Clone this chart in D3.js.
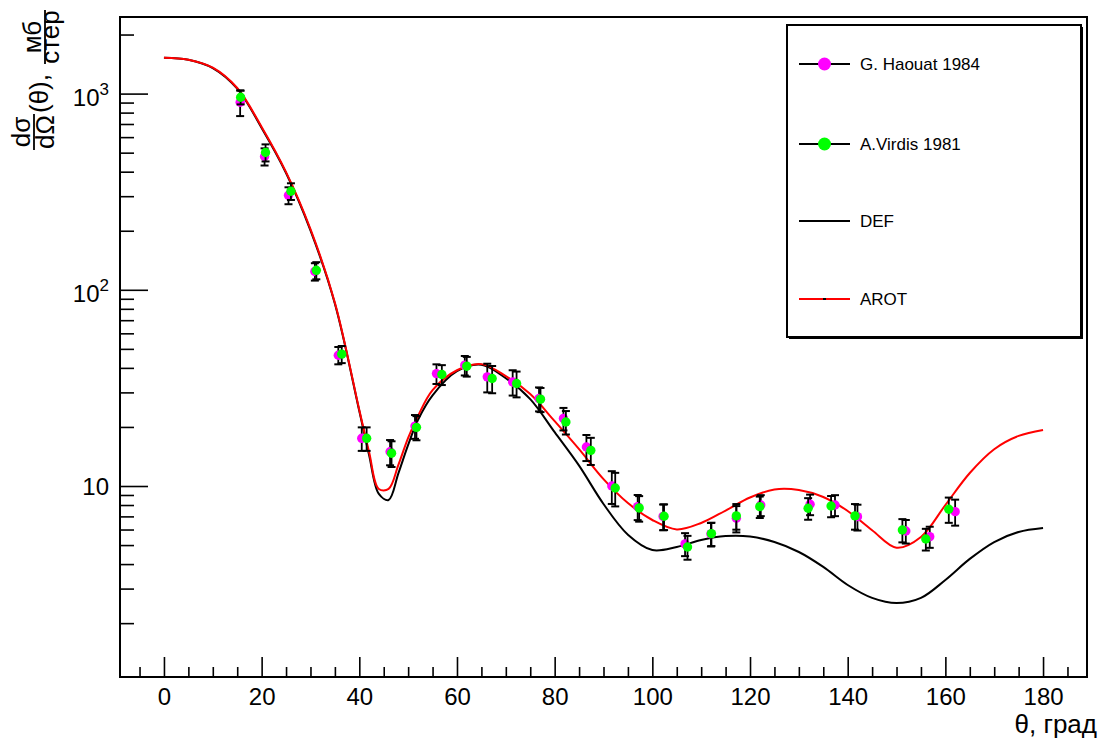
<!DOCTYPE html>
<html>
<head>
<meta charset="utf-8">
<script src="https://cdn.jsdelivr.net/npm/d3@7"></script>
<style>
  body { margin: 0; background: #fff; }
  text { font-family: "Liberation Sans", Arial, Helvetica, sans-serif; fill: #000; }
</style>
</head>
<body>
<svg id="chart" width="1107" height="742"></svg>
<script>
// Angular grid of the model curves (degrees)
const curveAngles = [0, 5, 10, 15, 20, 25, 30, 35, 40, 42, 44, 46, 48, 50, 52, 55, 60, 65, 70, 75,
  80, 85, 90, 95, 100, 105, 110, 115, 120, 125, 130, 135, 140, 145, 150, 155, 160, 165, 170, 175, 180];
// DEF model, mb/sr
const defValues = [1525, 1489, 1350, 1060, 668, 394, 201, 85, 24.1, 14.4, 9.11, 8.49, 11.6, 16.2, 21.7, 29.0,
  38.5, 41.5, 35.4, 27.7, 18.8, 12.7, 8.1, 5.65, 4.72, 4.89, 5.31, 5.56, 5.53, 5.18, 4.61, 3.87, 3.13,
  2.69, 2.53, 2.69, 3.32, 4.25, 5.18, 5.83, 6.11];
// AROT model, mb/sr
const arotValues = [1525, 1489, 1356, 1068, 676, 398, 204, 86, 24.4, 14.9, 9.66, 9.66, 12.8, 17.6, 22.7, 30.8,
  38.9, 41.8, 36.3, 29.4, 21.4, 15.4, 10.85, 8.19, 6.71, 6.01, 6.48, 7.5, 8.74, 9.60, 9.54, 8.79, 7.46,
  5.95, 4.85, 5.50, 8.00, 11.65, 15.4, 18.0, 19.3];

// G. Haouat 1984
const haouatAngles = [15.6, 20.6, 25.5, 30.9, 35.7, 40.5, 46.3, 51.4, 55.8, 61.6, 66.2, 71.4, 76.8, 81.8,
  86.5, 91.7, 97.0, 102.2, 106.7, 112.0, 117.2, 122.2, 132.3, 137.4, 142.0, 151.9, 156.8, 162.0];
const haouatValues = [903, 478, 303, 124, 46.4, 17.5, 14.95, 20.2, 37.4, 41.3, 36.0, 33.9, 27.9, 22.1,
  15.8, 10.0, 7.85, 7.0, 5.07, 5.7, 6.85, 8.0, 8.07, 8.0, 6.98, 5.9, 5.52, 7.4];
const haouatErrors = [135, 48, 30, 12.6, 4.7, 2.4, 2.2, 2.8, 4.3, 4.7, 6.0, 5.0, 3.9, 2.9,
  2.4, 1.9, 1.15, 1.05, 0.68, 0.78, 1.05, 0.98, 0.97, 0.98, 1.05, 0.81, 0.68, 1.12];

// A.Virdis 1981
const virdisAngles = [15.7, 20.8, 26.0, 31.2, 36.4, 41.5, 46.6, 51.7, 56.9, 62.0, 67.2, 72.2, 77.1, 82.3,
  87.4, 92.4, 97.3, 102.4, 107.2, 112.1, 117.2, 122.0, 131.9, 136.6, 141.5, 151.2, 156.0, 160.7];
const virdisValues = [958, 501, 318, 125.7, 47.0, 17.5, 14.7, 19.9, 37.0, 40.8, 35.3, 33.3, 27.7, 21.2,
  15.2, 9.77, 7.73, 7.01, 4.89, 5.72, 7.04, 7.85, 7.70, 7.91, 7.04, 5.97, 5.37, 7.61];
const virdisErrors = [77, 50, 31, 12.6, 4.7, 2.4, 2.2, 2.8, 4.3, 4.7, 5.6, 5.0, 3.9, 2.9,
  2.4, 1.9, 1.15, 1.05, 0.68, 0.78, 1.05, 0.98, 0.97, 0.98, 1.05, 0.81, 0.68, 1.12];

// Axis ticks
const xMajorTicks = [0, 20, 40, 60, 80, 100, 120, 140, 160, 180];
const xMinorTicks = [-5, 5, 10, 15, 25, 30, 35, 45, 50, 55, 65, 70, 75, 85, 90, 95, 105, 110, 115,
  125, 130, 135, 145, 150, 155, 165, 170, 175, 185];
const yMajorTicks = [10, 100, 1000];
const yTickBase = ["10", "10", "10"];
const yTickExp = ["", "2", "3"];
const yMinorTicks = [2, 3, 4, 5, 6, 7, 8, 9, 20, 30, 40, 50, 60, 70, 80, 90,
  200, 300, 400, 500, 600, 700, 800, 900, 2000];

const legendLabels = ["G. Haouat 1984", "A.Virdis 1981", "DEF", "AROT"];
const legendColors = ["#ff00ff", "#00ff00", "#000000", "#ff0000"];

const svg = d3.select("#chart");
svg.append("rect").attr("width", 1107).attr("height", 742).attr("fill", "#fff");

const frame = { left: 120, right: 1087, top: 17, bottom: 677 };
const x = d3.scaleLinear().domain([-9, 189]).range([frame.left, frame.right]);
const y = d3.scaleLog().domain([1.063, 2457]).range([frame.bottom, frame.top]);

// Model curves
const line = d3.line().x(d => x(d[0])).y(d => y(d[1])).curve(d3.curveCatmullRom.alpha(0.5));
const defPts = curveAngles.map((a, i) => [a, defValues[i]]);
const arotPts = curveAngles.map((a, i) => [a, arotValues[i]]);
svg.append("path").attr("d", line(defPts)).attr("fill", "none").attr("stroke", "#000").attr("stroke-width", 2);
svg.append("path").attr("d", line(arotPts)).attr("fill", "none").attr("stroke", "#ff0000").attr("stroke-width", 2);

// Measured points with error bars
function drawSeries(angles, values, errors, color) {
  const g = svg.append("g");
  angles.forEach((a, i) => {
    const cx = x(a);
    const yHi = y(values[i] + errors[i]);
    const yLo = y(values[i] - errors[i]);
    g.append("line").attr("x1", cx).attr("x2", cx).attr("y1", yHi).attr("y2", yLo)
      .attr("stroke", "#000").attr("stroke-width", 1.8);
    [yHi, yLo].forEach(yy => g.append("line").attr("x1", cx - 4).attr("x2", cx + 4)
      .attr("y1", yy).attr("y2", yy).attr("stroke", "#000").attr("stroke-width", 2));
  });
  g.selectAll("circle").data(angles).enter().append("circle")
    .attr("cx", d => x(d)).attr("cy", (d, i) => y(values[i])).attr("r", 4.7).attr("fill", color);
}
drawSeries(haouatAngles, haouatValues, haouatErrors, "#ff00ff");
drawSeries(virdisAngles, virdisValues, virdisErrors, "#00ff00");

// Frame
svg.append("rect").attr("x", frame.left).attr("y", frame.top)
  .attr("width", frame.right - frame.left).attr("height", frame.bottom - frame.top)
  .attr("fill", "none").attr("stroke", "#000").attr("stroke-width", 2);

// X axis (ticks point into the frame)
const xMajor = svg.append("g").attr("transform", `translate(0,${frame.bottom})`)
  .call(d3.axisBottom(x).tickValues(xMajorTicks).tickSize(-20).tickPadding(0).tickFormat(d3.format("d")));
xMajor.select(".domain").remove();
xMajor.selectAll(".tick line").attr("stroke-width", 1.6);
xMajor.selectAll(".tick text").attr("font-size", 24).attr("font-family", "Liberation Sans, Arial, sans-serif")
  .attr("dy", null).attr("y", 28);
const xMinor = svg.append("g").attr("transform", `translate(0,${frame.bottom})`)
  .call(d3.axisBottom(x).tickValues(xMinorTicks).tickSize(-10).tickFormat(""));
xMinor.select(".domain").remove();
xMinor.selectAll(".tick line").attr("stroke-width", 1.6);

// Y axis (log)
const yMajor = svg.append("g").attr("transform", `translate(${frame.left},0)`)
  .call(d3.axisLeft(y).tickValues(yMajorTicks).tickSize(-28).tickFormat(""));
yMajor.select(".domain").remove();
yMajor.selectAll(".tick line").attr("stroke-width", 1.6);
const yMinor = svg.append("g").attr("transform", `translate(${frame.left},0)`)
  .call(d3.axisLeft(y).tickValues(yMinorTicks).tickSize(-14).tickFormat(""));
yMinor.select(".domain").remove();
yMinor.selectAll(".tick line").attr("stroke-width", 1.6);

yMajorTicks.forEach((v, i) => {
  const t = svg.append("text").attr("x", 109).attr("text-anchor", "end").attr("font-size", 24);
  if (yTickExp[i]) {
    t.attr("y", y(v) + 12);
    t.append("tspan").text(yTickBase[i]);
    t.append("tspan").attr("font-size", 17).attr("dy", -11).text(yTickExp[i]);
  } else {
    t.attr("y", y(v) + 8.6).text(yTickBase[i]);
  }
});

// Axis titles
svg.append("text").attr("x", 1097).attr("y", 733).attr("text-anchor", "end")
  .attr("font-size", 26).text("θ, град");

const titleSize = 26;
function vText(str, bx, cy, anchor) {
  svg.append("text").attr("transform", `translate(${bx},${cy}) rotate(-90)`)
    .attr("text-anchor", anchor).attr("font-size", titleSize).text(str);
}
vText("dσ", 30, 132, "middle");
svg.append("line").attr("x1", 34).attr("x2", 34).attr("y1", 114).attr("y2", 150).attr("stroke", "#000").attr("stroke-width", 1.8);
vText("dΩ", 54, 132, "middle");
vText("(θ),", 48, 113, "start");
vText("мб", 41, 37, "middle");
svg.append("line").attr("x1", 45).attr("x2", 45).attr("y1", 10).attr("y2", 64).attr("stroke", "#000").attr("stroke-width", 1.8);
vText("стер", 59, 37, "middle");

// Legend
const legend = svg.append("g");
legend.append("rect").attr("x", 789).attr("y", 27).attr("width", 294).attr("height", 312).attr("fill", "#000");
legend.append("rect").attr("x", 787).attr("y", 25).attr("width", 294).attr("height", 312)
  .attr("fill", "#fff").attr("stroke", "#000").attr("stroke-width", 2);
const rowY = [64, 144, 221, 299];
legendLabels.forEach((lab, i) => {
  const ry = rowY[i];
  const lineColor = i === 3 ? "#ff0000" : "#000";
  legend.append("line").attr("x1", 799).attr("x2", 850).attr("y1", ry).attr("y2", ry)
    .attr("stroke", lineColor).attr("stroke-width", 2);
  if (i < 2) {
    legend.append("circle").attr("cx", 824.5).attr("cy", ry).attr("r", 6.5).attr("fill", legendColors[i]);
  } else {
    legend.append("rect").attr("x", 823).attr("y", ry - 1).attr("width", 3).attr("height", 2).attr("fill", "#000");
  }
  legend.append("text").attr("x", 860).attr("y", ry + 6).attr("font-size", 17).text(lab);
});
</script>
</body>
</html>
